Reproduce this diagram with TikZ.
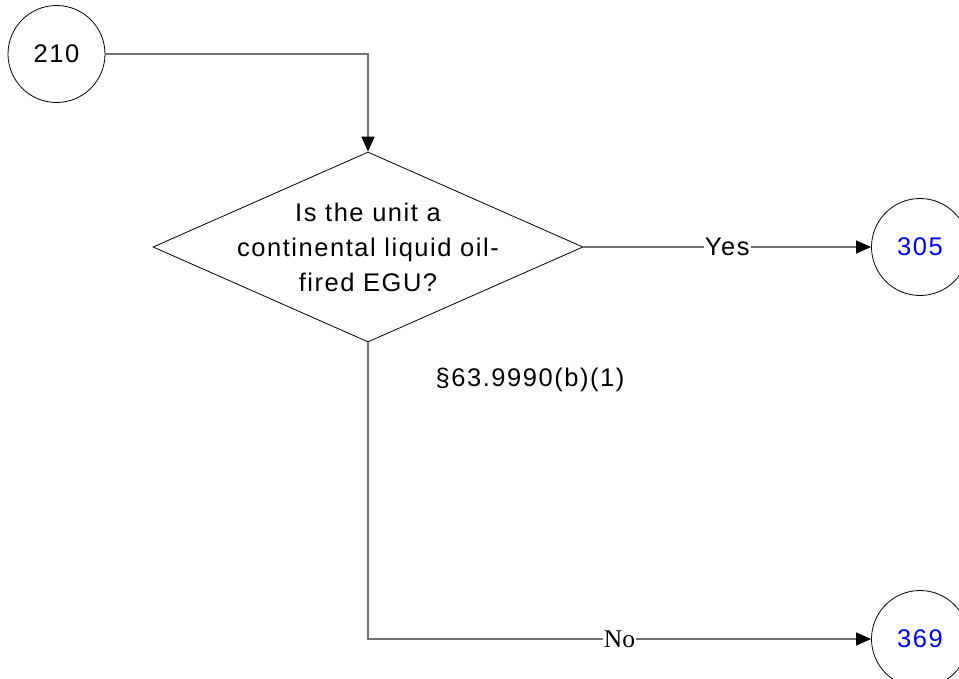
\documentclass[tikz,border=0pt]{standalone}
\usepackage{fontspec}
\setmainfont{Liberation Sans}[LetterSpace=6]
\newfontfamily\serifno{Liberation Serif}
\usetikzlibrary{arrows.meta,positioning,shapes.geometric}

\begin{document}
\begin{tikzpicture}[
  x=1pt, y=-1pt, >={Triangle[length=15pt,width=13pt,black]},
  every node/.style={font=\fontsize{25.5}{35}\selectfont},
  conn/.style={draw=black!55, line width=1.4pt},
  onlabel/.style={fill=white, inner sep=1pt},
  ref/.style={draw, circle, line width=0.8pt, minimum size=97pt, inner sep=0pt},
  decision/.style={draw, diamond, aspect=2.263, line width=0.8pt, minimum width=430pt,
                   minimum height=190pt, inner sep=-20pt, align=center}
]
  \useasboundingbox (0,0) rectangle (959,678);

  \node[ref] (start) at (56.5, 54) {210};
  \node[decision] (oilfired) at (368, 247)
    {Is the unit a\\continental liquid oil-\\fired EGU?};
  \node[ref, text=blue] (yes305) at (920, 247) {305};
  \node[ref, text=blue] (no369) at (920, 639) {369};
  \node (cite) at (530, 380) {\S63.9990(b)(1)};

  \draw[conn, ->] (start) -| (oilfired.north);
  \draw[conn, ->] (oilfired.east) -- node[onlabel] {Yes} (yes305);
  \draw[conn, ->] (oilfired.south) |- node[onlabel, pos=0.75, font=\fontsize{25.5}{35}\serifno] {No} (no369);
\end{tikzpicture}
\end{document}
